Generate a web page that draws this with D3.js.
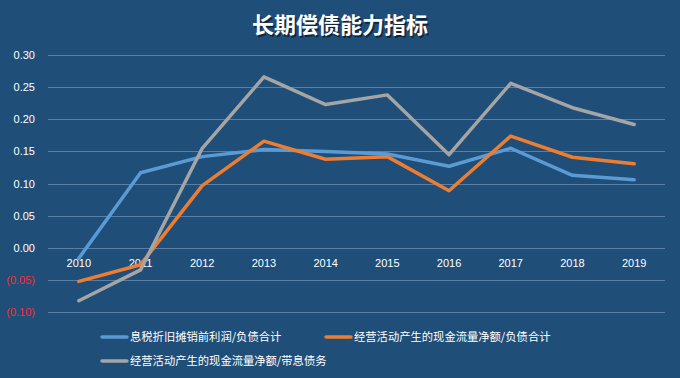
<!DOCTYPE html>
<html><head><meta charset="utf-8">
<script src="https://cdn.jsdelivr.net/npm/d3@7"></script>
<style>
html,body{margin:0;padding:0;background:#1f4e79;}
svg{display:block;font-family:"Noto Sans CJK SC","Liberation Sans",sans-serif;}
</style></head>
<body>
<svg id="chart" width="680" height="378"></svg>
<script>
const title = "长期偿债能力指标";
const years = ["2010","2011","2012","2013","2014","2015","2016","2017","2018","2019"];
const seriesNames = ["息税折旧摊销前利润/负债合计","经营活动产生的现金流量净额/负债合计","经营活动产生的现金流量净额/带息债务"];
const ebitdaDebt = [-0.016,0.117,0.142,0.153,0.150,0.146,0.127,0.155,0.113,0.106];
const cfoDebt = [-0.052,-0.026,0.097,0.166,0.138,0.142,0.089,0.174,0.141,0.131];
const cfoInterestDebt = [-0.082,-0.034,0.155,0.266,0.223,0.238,0.145,0.256,0.218,0.192];
const yTicks = [-0.10,-0.05,0,0.05,0.10,0.15,0.20,0.25,0.30];
const colors = ["#5b9bd5","#ed7d31","#a5a5a5"];

const svg = d3.select("#chart");
const W = 680, H = 378;
svg.append("rect").attr("width",W).attr("height",H).attr("fill","#1f4e79");

const x = d3.scaleBand().domain(years).range([48,665]);
const y = d3.scaleLinear().domain([-0.10,0.30]).range([312.3,55]);

// gridlines
svg.append("g").selectAll("line").data(yTicks).join("line")
  .attr("x1",48).attr("x2",665)
  .attr("y1",d=>Math.round(y(d))+0.5).attr("y2",d=>Math.round(y(d))+0.5)
  .attr("stroke","#5a7fa6").attr("stroke-width",1);

// y labels
const fmt = d=> d<0 ? "("+Math.abs(d).toFixed(2)+")" : d.toFixed(2);
svg.append("g").selectAll("text").data(yTicks).join("text")
  .attr("x",35).attr("y",d=>y(d)+4)
  .attr("text-anchor","end").attr("font-size",11)
  .attr("font-family","Liberation Sans, Arial, sans-serif")
  .attr("fill",d=>d<0?"#ff2a2a":"#ffffff")
  .text(fmt);

// x labels
svg.append("g").selectAll("text").data(years).join("text")
  .attr("x",d=>x(d)+x.bandwidth()/2).attr("y",y(0)+19)
  .attr("text-anchor","middle").attr("font-size",11)
  .attr("font-family","Liberation Sans, Arial, sans-serif")
  .attr("fill","#ffffff").text(d=>d);

// lines
const line = d3.line().x((d,i)=>x(years[i])+x.bandwidth()/2).y(d=>y(d));
[ebitdaDebt,cfoDebt,cfoInterestDebt].forEach((s,i)=>{
  svg.append("path").datum(s).attr("d",line)
    .attr("fill","none").attr("stroke",colors[i]).attr("stroke-width",3.5)
    .attr("stroke-linejoin","round").attr("stroke-linecap","round");
});

// title
svg.append("text").attr("x",340).attr("y",33).attr("text-anchor","middle")
  .attr("font-size",22).attr("font-weight","bold").attr("fill","#000").attr("opacity",0.5)
  .attr("transform","translate(1.5,1.5)").text(title);
svg.append("text").attr("x",340).attr("y",33).attr("text-anchor","middle")
  .attr("font-size",22).attr("font-weight","bold").attr("fill","#ffffff").text(title);

// legend
const legendPos = [[102,337],[326,337],[102,361]];
seriesNames.forEach((n,i)=>{
  const [lx,ly] = legendPos[i];
  svg.append("line").attr("x1",lx).attr("x2",lx+25).attr("y1",ly).attr("y2",ly)
    .attr("stroke",colors[i]).attr("stroke-width",3.5).attr("stroke-linecap","round");
  svg.append("text").attr("x",lx+28).attr("y",ly+4.2).attr("font-size",11.3)
    .attr("fill","#ffffff").text(n);
});
</script>
</body></html>
